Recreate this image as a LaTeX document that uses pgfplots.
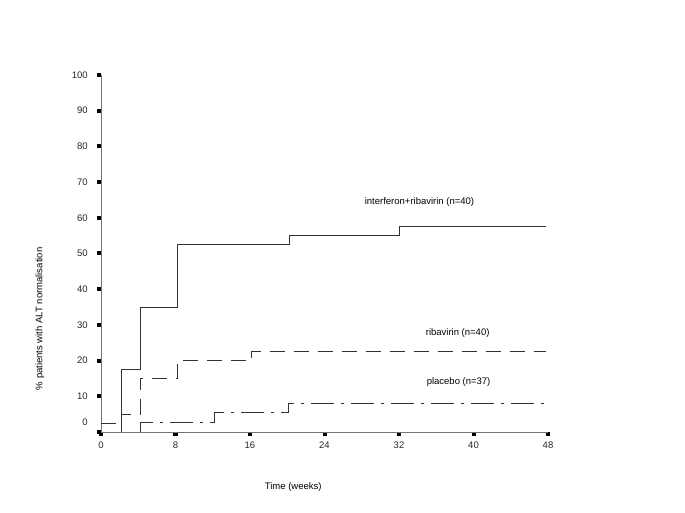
\documentclass[border=0pt]{standalone}
\usepackage{fontspec}
\setmainfont{Liberation Sans}
\usepackage{pgfplots}
\pgfplotsset{compat=1.18}

\begin{document}
\fontsize{9.3}{11}\selectfont
\begin{tikzpicture}
\path[use as bounding box] (-101pt,-81pt) rectangle (584pt,432pt);
\begin{axis}[
    scale only axis,
    width=447pt, height=357pt,
    xmin=0, xmax=48, ymin=0, ymax=100,
    axis lines*=left,
    axis line style={black!55, line width=0.9pt},
    xtick={0,8,...,48},
    ytick={0,10,...,100},
    yticklabels={\raisebox{20pt}{0},10,20,30,40,50,60,70,80,90,100},
    tick align=outside,
    major tick length=4pt,
    every tick/.style={black, line width=4pt},
    /pgf/number format/assume math mode=true,
    tick label style={font=\fontsize{9.5}{11}\selectfont, text=black!85},
    yticklabel style={xshift=-6pt},
    xticklabel style={yshift=-2.5pt},
    xlabel={Time (weeks)},
    ylabel={\% patients with ALT normalisation},
    every axis x label/.style={at={(axis description cs:0.43,0)}, yshift=-55pt, anchor=center, font=\fontsize{9.5}{11}\selectfont},
    every axis y label/.style={at={(axis description cs:0,0.317)}, xshift=-61pt, rotate=90, anchor=center, font=\fontsize{9.5}{11}\selectfont},
    clip=false,
]

% interferon + ribavirin
\addplot[black!80, line width=0.9pt] coordinates {
    (2.2,0) (2.2,17.5) (4.2,17.5) (4.2,35) (8.2,35) (8.2,52.5)
    (20.2,52.5) (20.2,55) (32,55) (32,57.5) (47.8,57.5)
};

% ribavirin
\addplot[black!80, line width=0.9pt, dash pattern=on 15pt off 9pt] coordinates {
    (0,2.5) (2.2,2.5) (2.2,5) (4.2,5) (4.2,15) (8.2,15) (8.2,20)
    (16.2,20) (16.2,22.5) (47.8,22.5)
};

% placebo
\addplot[black!80, line width=0.9pt, dash pattern=on 23pt off 7pt on 3pt off 7pt] coordinates {
    (4.2,0) (4.2,2.7) (12.2,2.7) (12.2,5.4) (20.1,5.4) (20.1,8.1) (47.8,8.1)
};

\node[font=\fontsize{9.5}{11}\selectfont] at (axis cs:34.2,64.5) {interferon+ribavirin (n=40)};
\node[font=\fontsize{9.5}{11}\selectfont] at (axis cs:38.3,27.8) {ribavirin (n=40)};
\node[font=\fontsize{9.5}{11}\selectfont] at (axis cs:38.4,14.1) {placebo (n=37)};
\end{axis}
\end{tikzpicture}
\end{document}
